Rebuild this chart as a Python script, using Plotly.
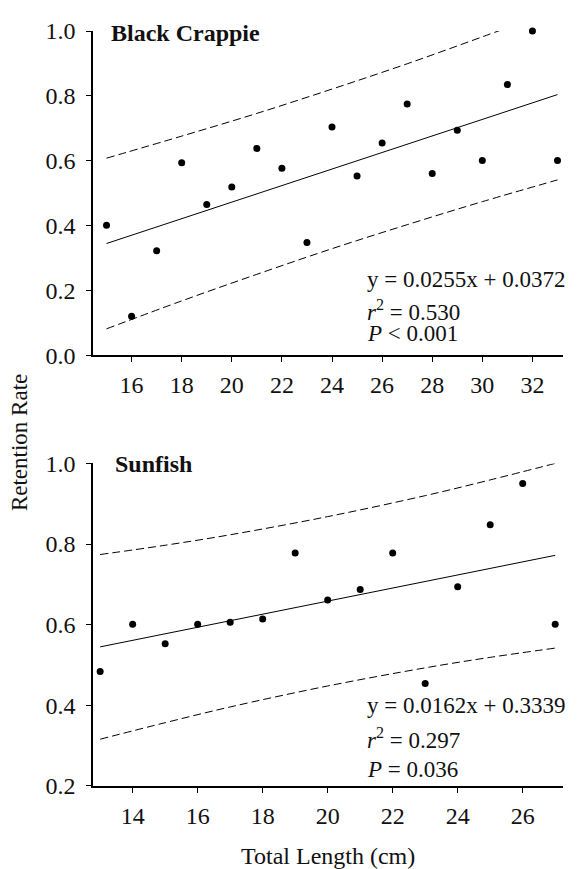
import plotly.graph_objects as go

# ---------------- data ----------------
# Black Crappie
bc_length = [15, 16, 17, 18, 19, 20, 21, 22, 23, 24, 25, 26, 27, 28, 29, 30, 31, 32, 33]
bc_retention = [0.401, 0.121, 0.323, 0.594, 0.465, 0.519, 0.638, 0.577, 0.348, 0.704,
                0.553, 0.655, 0.775, 0.561, 0.694, 0.601, 0.835, 1.000, 0.601]
bc_fit_x = [15, 33]
bc_fit_y = [0.345, 0.804]
bc_band_x = [15, 18, 21, 24, 27, 30, 33]
bc_band_upper = [0.608, 0.676, 0.746, 0.821, 0.899, 0.982, 1.067]
bc_band_lower = [0.082, 0.168, 0.250, 0.329, 0.403, 0.474, 0.541]

# Sunfish
sf_length = [13, 14, 15, 16, 17, 18, 19, 20, 21, 22, 23, 24, 25, 26, 27]
sf_retention = [0.484, 0.601, 0.553, 0.601, 0.606, 0.614, 0.778, 0.661, 0.687, 0.778,
                0.454, 0.694, 0.848, 0.950, 0.601]
sf_fit_x = [13, 27]
sf_fit_y = [0.545, 0.772]
sf_band_x = [13, 15, 17, 20, 23, 25, 27]
sf_band_upper = [0.774, 0.797, 0.823, 0.868, 0.920, 0.959, 1.000]
sf_band_lower = [0.316, 0.357, 0.396, 0.448, 0.493, 0.519, 0.542]

bc_stats = ["y = 0.0255x + 0.0372", "<i>r</i><sup>2</sup> = 0.530", "<i>P</i> &lt; 0.001"]
sf_stats = ["y = 0.0162x + 0.3339", "<i>r</i><sup>2</sup> = 0.297", "<i>P</i> = 0.036"]

FONT = "Liberation Serif, Times New Roman, serif"

fig = go.Figure()

def add_panel(xs, ys, fx, fy, bx, bu, bl, xa, ya):
    for band in (bu, bl):
        fig.add_trace(go.Scatter(x=bx, y=band, mode="lines",
                                 line=dict(color="black", width=1, dash="8px,4px", shape="spline"),
                                 xaxis=xa, yaxis=ya, showlegend=False, hoverinfo="skip"))
    fig.add_trace(go.Scatter(x=fx, y=fy, mode="lines", line=dict(color="black", width=1),
                             xaxis=xa, yaxis=ya, showlegend=False, hoverinfo="skip"))
    fig.add_trace(go.Scatter(x=xs, y=ys, mode="markers", marker=dict(color="black", size=7),
                             xaxis=xa, yaxis=ya, showlegend=False, cliponaxis=False))

add_panel(bc_length, bc_retention, bc_fit_x, bc_fit_y, bc_band_x, bc_band_upper, bc_band_lower, "x", "y")
add_panel(sf_length, sf_retention, sf_fit_x, sf_fit_y, sf_band_x, sf_band_upper, sf_band_lower, "x2", "y2")

axis_common = dict(showline=True, linecolor="black", linewidth=1.5, ticks="outside", ticklen=5,
                   tickwidth=1.2, tickcolor="black", showgrid=False, zeroline=False,
                   tickfont=dict(family=FONT, size=24, color="#111"))

# page body has an 8px default margin, so the figure is 8px smaller than the window
fig.update_layout(
    width=571, height=861,
    margin=dict(l=85, r=16, t=10, b=83),
    paper_bgcolor="white", plot_bgcolor="white",
    xaxis=dict(domain=[0, 1], range=[14.46, 33.22], tick0=0, dtick=2, anchor="y",
               ticklabelstandoff=2, **axis_common),
    yaxis=dict(domain=[0.5703, 1], range=[0, 1.0], tick0=0, dtick=0.2, tickformat=".1f", anchor="x",
               ticklabelstandoff=6, **axis_common),
    xaxis2=dict(domain=[0, 1], range=[12.78, 27.24], tick0=0, dtick=2, anchor="y2",
                ticklabelstandoff=2, **axis_common),
    yaxis2=dict(domain=[0, 0.4273], range=[0.2, 1.0], tick0=0, dtick=0.2, tickformat=".1f", anchor="x2",
                ticklabelstandoff=6, **axis_common),
    showlegend=False,
)

title_font = dict(family=FONT, size=24, color="#111")
stat_font = dict(family=FONT, size=23, color="#111")
annotations = [
    dict(text="<b>Black Crappie</b>", x=0.034, y=0.9974, xref="paper", yref="paper",
         xanchor="left", yanchor="middle", showarrow=False, font=title_font),
    dict(text="<b>Sunfish</b>", x=0.0426, y=0.4271, xref="paper", yref="paper",
         xanchor="left", yanchor="middle", showarrow=False, font=title_font),
    dict(text="Retention Rate", x=-0.155, y=0.4544, xref="paper", yref="paper", textangle=-90,
         xanchor="center", yanchor="middle", showarrow=False, font=dict(family=FONT, size=23, color="#111")),
    dict(text="Total Length (cm)", x=0.5, y=-0.0924, xref="paper", yref="paper",
         xanchor="center", yanchor="middle", showarrow=False, font=title_font),
]
for txt, yy in zip(bc_stats, [0.6710, 0.6300, 0.5990]):
    annotations.append(dict(text=txt, x=0.5787, y=yy, xref="paper", yref="paper",
                            xanchor="left", yanchor="middle", showarrow=False, font=stat_font))
for txt, yy in zip(sf_stats, [0.1060, 0.0625, 0.0221]):
    annotations.append(dict(text=txt, x=0.5787, y=yy, xref="paper", yref="paper",
                            xanchor="left", yanchor="middle", showarrow=False, font=stat_font))
fig.update_layout(annotations=annotations)

fig.write_html("out.html")
